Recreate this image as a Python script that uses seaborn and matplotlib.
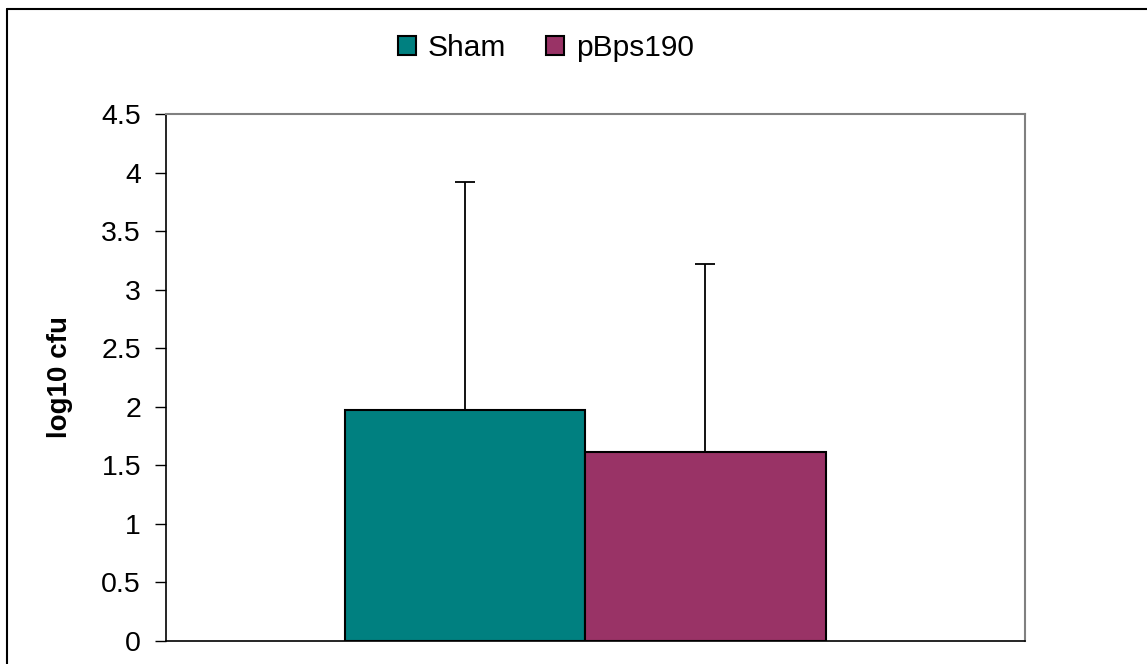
import pandas as pd
import numpy as np
import matplotlib.pyplot as plt
import seaborn as sns
from matplotlib.lines import Line2D

# Data
groups = ['Sham', 'pBps190']
means = [1.97, 1.61]
errors_up = [1.95, 1.61]
colors = ['#008080', '#993366']
yticks = [0, 0.5, 1, 1.5, 2, 2.5, 3, 3.5, 4, 4.5]

sns.set_style("white")
plt.rcParams['font.family'] = ['Liberation Sans', 'DejaVu Sans']
plt.rcParams['text.color'] = 'black'
plt.rcParams['axes.labelcolor'] = 'black'
plt.rcParams['ytick.color'] = 'black'

df = pd.DataFrame({'cat': [''] * len(groups), 'group': groups, 'value': means})

fig = plt.figure(figsize=(11.47, 6.64), dpi=100)
ax = fig.add_axes([166 / 1147, 23 / 664, 859 / 1147, 527 / 664])

sns.barplot(data=df, x='cat', y='value', hue='group', hue_order=groups,
            palette=colors, width=0.56, errorbar=None, saturation=1,
            edgecolor='black', linewidth=1.5, ax=ax)

# upward-only error bars at bar centres
for patch, m, e in zip(ax.patches[:len(groups)], means, errors_up):
    xc = patch.get_x() + patch.get_width() / 2
    ax.errorbar(xc, m, yerr=[[0], [e]], fmt='none', ecolor='black',
                elinewidth=1.3, capsize=7, capthick=1.3, zorder=1)

ax.set_xlim(-0.488, 0.512)
ax.set_ylim(0, 4.5)
ax.set_yticks(yticks)
ax.set_yticklabels([f'{t:g}' for t in yticks], fontsize=20.5)
ax.set_xticks([])
ax.set_xlabel('')
ax.set_ylabel('log10 cfu', fontsize=20, fontweight='bold')
ax.yaxis.set_label_coords(-0.108, 0.5)
ax.tick_params(axis='y', direction='out', length=8, width=1, left=True, pad=10)

for side in ['left', 'bottom']:
    ax.spines[side].set_color('black')
    ax.spines[side].set_linewidth(1.2)
for side in ['top', 'right']:
    ax.spines[side].set_visible(True)
    ax.spines[side].set_color('#808080')
    ax.spines[side].set_linewidth(1.5)

leg = ax.legend(loc='center', bbox_to_anchor=(546 / 1147, 1 - 48 / 664),
                bbox_transform=fig.transFigure, ncol=2, frameon=False,
                fontsize=21.5, handlelength=0.6, handleheight=0.6,
                handletextpad=0.4, columnspacing=1.35, borderpad=0)
for h in leg.legend_handles:
    h.set_edgecolor('black')
    h.set_linewidth(1.5)

# outer chart border: only top and left edges are inside the picture
bx, by = 7.5 / 1147, 1 - 9 / 664
fig.add_artist(Line2D([bx, 1.0], [by, by], transform=fig.transFigure,
                      color='black', linewidth=1.5))
fig.add_artist(Line2D([bx, bx], [0, by], transform=fig.transFigure,
                      color='black', linewidth=1.5))

plt.savefig('out.png', dpi=100)
